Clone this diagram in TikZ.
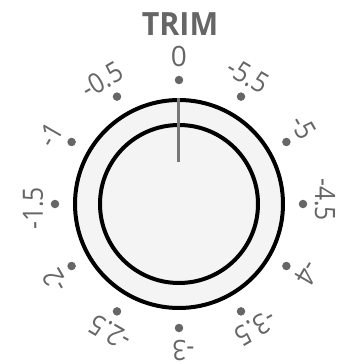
\documentclass[tikz,border=0pt]{standalone}
\usepackage{fontspec}
\setmainfont{Open Sans}
\usetikzlibrary{positioning}
\definecolor{markgray}{HTML}{666666}
\definecolor{pointergray}{HTML}{777777}
\definecolor{knobfill}{HTML}{F4F4F4}
\tikzset{
  knobring/.style={draw, circle, line width=4pt, inner sep=0pt},
  tickdot/.style={circle, fill=markgray, inner sep=0pt, minimum size=8.5pt},
  ticklabel/.style={font=\fontsize{28}{28}\selectfont, text=markgray, inner sep=0pt},
  pointer/.style={draw=pointergray, line width=3pt}
}

\begin{document}
\begin{tikzpicture}[x=1pt, y=1pt]
  \useasboundingbox (-179,-160) rectangle (174,204);
  \node[font=\bfseries\fontsize{32}{32}\selectfont, text=markgray, xscale=0.95] (title) at (1,180) {TRIM};
  \node[knobring, fill=knobfill, minimum size=208pt] (outer) at (0,0) {};
  \node[knobring, minimum size=158pt] (inner) at (0,0) {};
  \coordinate (tip) at (0,42);
  \draw[pointer] (outer.north) -- (tip);
  % scale marks, counter clockwise from the top
  \node[tickdot] (dot0) at (90:124) {};
  \node[ticklabel] (lab0) at (90:148) {0};
  \foreach \k/\val in {1/-0.5, 2/-1, 3/-1.5, 4/-2, 5/-2.5, 6/-3, 7/-3.5, 8/-4, 9/-4.5, 10/-5, 11/-5.5} {
    \node[tickdot] (dot\k) at ({90+30*\k}:124) {};
    \node[ticklabel, rotate=30*\k, xscale=0.88, xshift=-5pt] (lab\k) at ({90+30*\k}:146) {\val};
  }
\end{tikzpicture}
\end{document}
